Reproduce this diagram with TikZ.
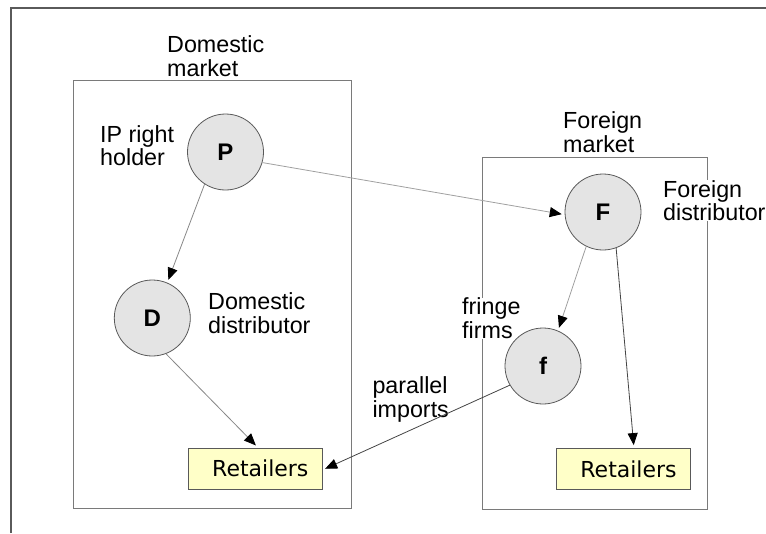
\documentclass[tikz,border=0pt]{standalone}
\usepackage{fontspec}
\setmainfont{Liberation Sans}
\newfontfamily\retfont{DejaVu Sans}
\usetikzlibrary{arrows.meta}
\definecolor{circfill}{HTML}{E4E4E4}
\definecolor{retfill}{HTML}{FFFFC8}
\definecolor{framegray}{HTML}{5A5A5A}
\definecolor{boxgray}{HTML}{7A7A7A}
\definecolor{lightlink}{HTML}{A0A0A0}
\definecolor{darklink}{HTML}{444444}
\begin{document}
\begin{tikzpicture}[x=1pt,y=-1pt,
  firm/.style={circle, draw=black!65, fill=circfill, line width=0.8pt, minimum size=76pt, inner sep=0pt, font=\fontsize{24}{24}\selectfont\bfseries},
  lbl/.style={anchor=north west, align=left, inner sep=0pt, fill=white, font=\fontsize{23.3}{23.5}\selectfont},
  retbox/.style={draw=black!65, fill=retfill, line width=0.8pt, minimum width=134pt, minimum height=41pt, inner sep=0pt, font=\retfont\fontsize{22}{22}\selectfont},
  link/.style={line width=0.8pt, -{Triangle[length=12pt,width=10pt,color=black]}, shorten >=3pt},
  mktbox/.style={draw=boxgray, line width=0.9pt}
]
\useasboundingbox (0,0) rectangle (766,533);
% outer frame
\draw[framegray, line width=1.1pt] (11,533) -- (11,8) -- (766,8);
% markets
\draw[mktbox] (73,80) rectangle (351,508);
\draw[mktbox] (482,157) rectangle (707,509);
% labels
\node[lbl] (ldm) at (167,35.7) {Domestic\\market};
\node[lbl] (lip) at (100,125) {IP right\\holder};
\node[lbl] (ldd) at (208,292.7) {Domestic\\distributor};
\node[lbl] (lfm) at (563,111.7) {Foreign\\market};
\node[lbl] (lfd) at (663,180) {Foreign\\distributor};
\node[lbl] (lff) at (462,297.7) {fringe\\firms};
\node[lbl] (lpi) at (372.3,376.7) {parallel\\imports};
% firms
\node[firm] (P) at (225.5,152) {P};
\node[firm] (D) at (152.3,318) {D};
\node[firm] (F) at (603,212) {F};
\node[firm] (f) at (543,366) {f};
% retailers
\node[retbox] (R1) at (255,468.5) {\hspace*{10.6pt}Retailers};
\node[retbox] (R2) at (623,469) {\hspace*{11pt}Retailers};
% connectors
\draw[link, draw=lightlink] (P.-16) -- (F.184);
\draw[link, draw=lightlink!85!black] (P.237) -- (D.67);
\draw[link, draw=lightlink!85!black] (D.291) -- ([xshift=3pt]R1.north);
\draw[link, draw=lightlink] (F.244) -- (f.67);
\draw[link, draw=darklink] (F.290) -- ([xshift=11pt]R2.north);
\draw[link, draw=darklink] (f.210) -- ([yshift=-1.5pt]R1.east);
\end{tikzpicture}
\end{document}
